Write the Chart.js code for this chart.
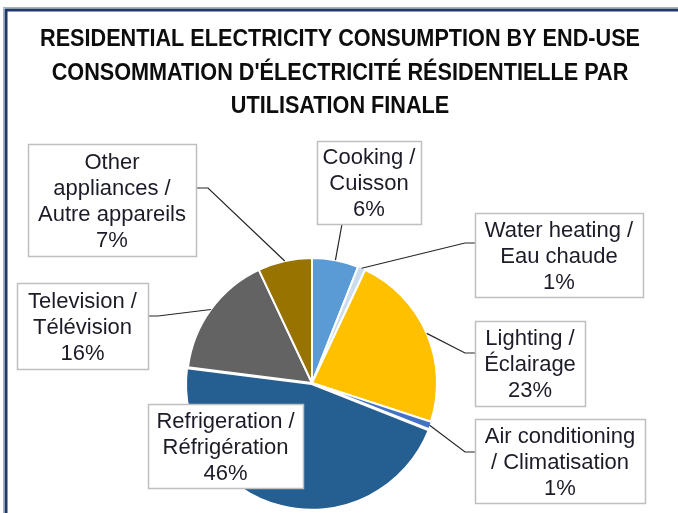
<!DOCTYPE html>
<html>
<head>
<meta charset="utf-8">
<script src="https://cdn.jsdelivr.net/npm/chart.js@4.4.1/dist/chart.umd.min.js"></script>
<style>
  html, body { margin: 0; padding: 0; background: #fff; }
  #wrap { width: 678px; height: 513px; }
</style>
</head>
<body>
<div id="wrap"><canvas id="endUseChart" width="678" height="513"></canvas></div>
<script>
const titleLines = [
    'RESIDENTIAL ELECTRICITY CONSUMPTION BY END-USE',
    "CONSOMMATION D'ÉLECTRICITÉ RÉSIDENTIELLE PAR",
    'UTILISATION FINALE'
];

// slices go clockwise from 12 o'clock
const categories = [
    ['Cooking /', 'Cuisson'],
    ['Water heating /', 'Eau chaude'],
    ['Lighting /', 'Éclairage'],
    ['Air conditioning', '/ Climatisation'],
    ['Refrigeration /', 'Réfrigération'],
    ['Television /', 'Télévision'],
    ['Other', 'appliances /', 'Autre appareils']
];
const shares = [6, 1, 23, 1, 46, 16, 7];

const sliceColors = ['#5b9bd5', '#c9dcf0', '#ffc000', '#4472c4', '#255e91', '#636363', '#997300'];
const sliceOffsets = [0, 2, 0, 2, 4, 0, 0];

// callout boxes: x, y, w, h, where the leader leaves the box, and its elbow
const calloutBoxes = [
    { x: 317, y: 141, w: 104, h: 83,  from: [342, 224], elbow: null },
    { x: 475, y: 213, w: 168, h: 84,  from: [475, 243], elbow: [465, 243] },
    { x: 475, y: 321, w: 110, h: 85,  from: [475, 353], elbow: [465, 353] },
    { x: 475, y: 419, w: 170, h: 84,  from: [475, 452], elbow: [465, 452] },
    { x: 148, y: 404, w: 155, h: 84,  from: null,       elbow: null },
    { x: 17,  y: 283, w: 131, h: 86,  from: [148, 316], elbow: [158, 316] },
    { x: 28,  y: 144, w: 168, h: 112, from: [196, 188], elbow: [208, 188] }
];

const frameAndTitle = {
    id: 'frameAndTitle',
    afterDraw(chart) {
        const ctx = chart.ctx;
        ctx.save();
        // outer frame (runs off the right and bottom edges)
        ctx.strokeStyle = '#a4b3c9';
        ctx.lineWidth = 1;
        ctx.strokeRect(3.5, 7.5, 800, 700);
        ctx.strokeStyle = '#1f3864';
        ctx.lineWidth = 3;
        ctx.strokeRect(6, 10, 800, 700);

        ctx.fillStyle = '#0d0d0d';
        ctx.font = 'bold 23px "Liberation Sans Narrow", "Liberation Sans", Arial, sans-serif';
        ctx.textAlign = 'center';
        ctx.textBaseline = 'middle';
        const sx = 600 / ctx.measureText(titleLines[0]).width;
        [40, 74, 107].forEach((y, i) => {
            ctx.save();
            ctx.translate(340, y);
            ctx.scale(sx, 1);
            ctx.fillText(titleLines[i], 0, 0);
            ctx.restore();
        });
        ctx.restore();
    }
};

const callouts = {
    id: 'callouts',
    afterDatasetsDraw(chart) {
        const ctx = chart.ctx;
        const arcs = chart.getDatasetMeta(0).data;
        ctx.save();
        arcs.forEach((arc, i) => {
            const box = calloutBoxes[i];
            const p = arc.getProps(['x', 'y', 'startAngle', 'endAngle', 'outerRadius']);
            const mid = (p.startAngle + p.endAngle) / 2;
            const ax = p.x + Math.cos(mid) * p.outerRadius;
            const ay = p.y + Math.sin(mid) * p.outerRadius;

            if (box.from) {
                ctx.strokeStyle = '#262626';
                ctx.lineWidth = 1.2;
                ctx.beginPath();
                ctx.moveTo(box.from[0], box.from[1]);
                if (box.elbow) ctx.lineTo(box.elbow[0], box.elbow[1]);
                ctx.lineTo(ax, ay);
                ctx.stroke();
            }

            ctx.fillStyle = '#ffffff';
            ctx.fillRect(box.x, box.y, box.w, box.h);
            ctx.strokeStyle = '#bfbfbf';
            ctx.lineWidth = 1.5;
            ctx.strokeRect(box.x + 0.5, box.y + 0.5, box.w, box.h);

            const lines = categories[i].concat([shares[i] + '%']);
            ctx.fillStyle = '#1c1c28';
            ctx.font = '22px "Liberation Sans", Arial, sans-serif';
            ctx.textAlign = 'center';
            ctx.textBaseline = 'middle';
            const cx = box.x + box.w / 2;
            const top = box.y + box.h / 2 - (lines.length - 1) * 26 / 2 + 1.5;
            lines.forEach((t, k) => ctx.fillText(t, cx, top + k * 26));
        });
        ctx.restore();
    }
};

new Chart(document.getElementById('endUseChart'), {
    type: 'pie',
    data: {
        labels: categories.map(c => c.join(' ')),
        datasets: [{
            data: shares,
            backgroundColor: sliceColors,
            borderColor: '#ffffff',
            borderWidth: 2,
            offset: sliceOffsets
        }]
    },
    options: {
        responsive: false,
        animation: false,
        layout: { padding: { left: 184, right: 238, top: 255, bottom: 2 } },
        plugins: {
            legend: { display: false },
            tooltip: { enabled: false },
            title: { display: false }
        }
    },
    plugins: [frameAndTitle, callouts]
});
</script>
</body>
</html>
